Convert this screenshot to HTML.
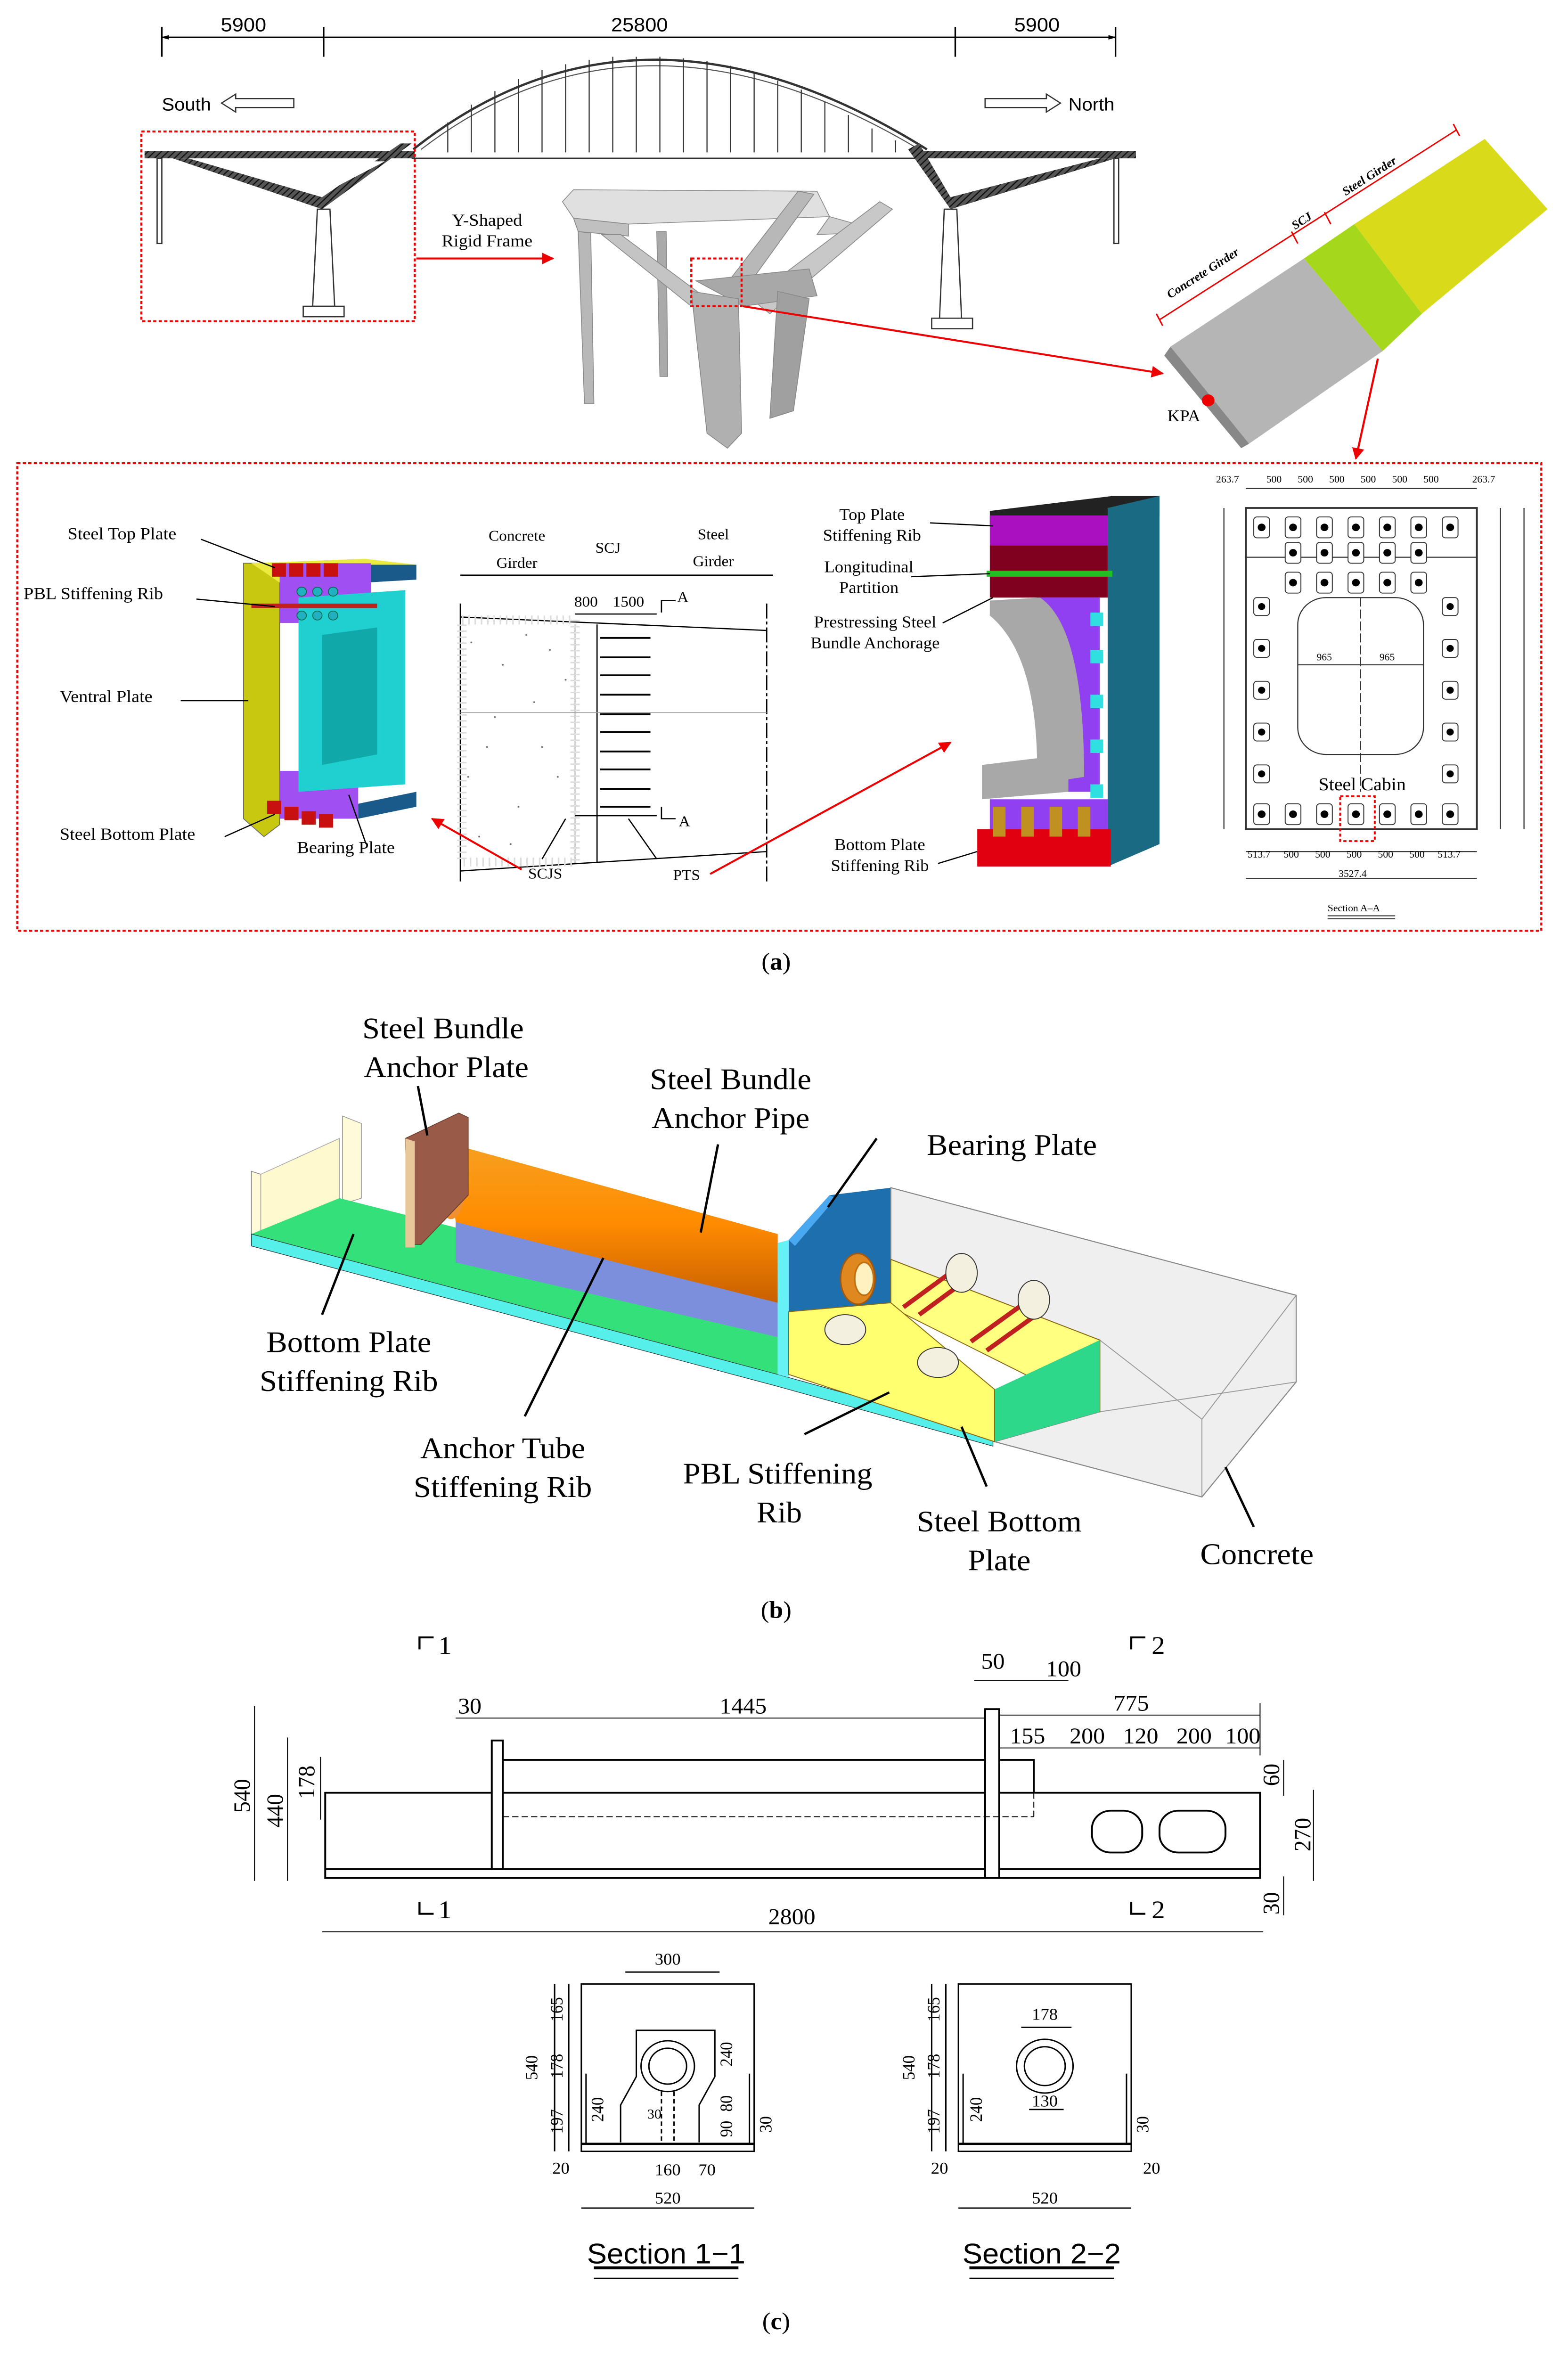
<!DOCTYPE html>
<html><head><meta charset="utf-8"><style>
html,body{margin:0;padding:0;background:#fff;width:100vw;height:100vh;overflow:hidden;position:relative}
svg{display:block;position:absolute;left:0;top:0;width:100vw;height:100vh}
text{font-family:"Liberation Serif",serif;fill:#000}
.s{font-family:"Liberation Sans",sans-serif}
.n{font-family:"Liberation Sans Narrow","Liberation Sans",sans-serif}
</style></head><body>
<svg viewBox="0 0 998 1577" preserveAspectRatio="none" xmlns="http://www.w3.org/2000/svg">
<defs>
<marker id="ar" viewBox="0 0 10 10" refX="9" refY="5" markerWidth="6" markerHeight="6" orient="auto"><path d="M0,0L10,5L0,10z" fill="#e00"/></marker>
<marker id="ak" viewBox="0 0 10 10" refX="9" refY="5" markerWidth="5" markerHeight="5" orient="auto-start-reverse"><path d="M0,2L10,5L0,8z" fill="#000"/></marker>
<pattern id="h" width="3" height="3" patternUnits="userSpaceOnUse" patternTransform="rotate(45)"><rect width="3" height="3" fill="#555"/><line x1="0" y1="0" x2="0" y2="3" stroke="#111" stroke-width="1.5"/></pattern>
<linearGradient id="og" x1="0" y1="0" x2="0" y2="1"><stop offset="0" stop-color="#f7a020"/><stop offset=".5" stop-color="#ff8c00"/><stop offset="1" stop-color="#c86000"/></linearGradient>
</defs>

<g stroke="#000" stroke-width="1" fill="none">
<line x1="103" y1="25" x2="710" y2="25" marker-start="url(#ak)" marker-end="url(#ak)"/>
<line x1="103" y1="18" x2="103" y2="38"/><line x1="206" y1="18" x2="206" y2="38"/><line x1="608" y1="18" x2="608" y2="38"/><line x1="710" y1="18" x2="710" y2="38"/>
</g>
<text class="n" x="155" y="21" font-size="13" text-anchor="middle">5900</text>
<text class="n" x="407" y="21" font-size="13" text-anchor="middle">25800</text>
<text class="n" x="660" y="21" font-size="13" text-anchor="middle">5900</text>
<text class="s" x="103" y="74" font-size="12">South</text>
<path d="M141,69 L150,63 L150,66 L187,66 L187,72 L150,72 L150,75 Z" fill="#fff" stroke="#333" stroke-width=".8"/>
<path d="M675,69 L666,63 L666,66 L627,66 L627,72 L666,72 L666,75 Z" fill="#fff" stroke="#333" stroke-width=".8"/>
<text class="s" x="680" y="74" font-size="12">North</text>
<path d="M263,100 Q407,-20 590,100" fill="none" stroke="#333" stroke-width="1.5"/>
<path d="M268,100 Q407,-12 585,100" fill="none" stroke="#555" stroke-width=".7"/>
<g stroke="#333" stroke-width=".7">
<line x1="285" y1="82" x2="285" y2="102"/><line x1="300" y1="70" x2="300" y2="102"/><line x1="315" y1="61" x2="315" y2="102"/><line x1="330" y1="53" x2="330" y2="102"/><line x1="345" y1="47" x2="345" y2="102"/><line x1="360" y1="43" x2="360" y2="102"/><line x1="375" y1="40" x2="375" y2="102"/><line x1="390" y1="38" x2="390" y2="102"/><line x1="405" y1="38" x2="405" y2="102"/><line x1="420" y1="38" x2="420" y2="102"/><line x1="435" y1="39" x2="435" y2="102"/><line x1="450" y1="41" x2="450" y2="102"/><line x1="465" y1="44" x2="465" y2="102"/><line x1="480" y1="48" x2="480" y2="102"/><line x1="495" y1="54" x2="495" y2="102"/><line x1="510" y1="60" x2="510" y2="102"/><line x1="525" y1="68" x2="525" y2="102"/><line x1="540" y1="77" x2="540" y2="102"/><line x1="555" y1="86" x2="555" y2="102"/><line x1="570" y1="94" x2="570" y2="102"/>
</g>
<line x1="262" y1="106" x2="590" y2="106" stroke="#333" stroke-width="1"/>
<rect x="92" y="101" width="172" height="5" fill="url(#h)"/>
<rect x="585" y="101" width="138" height="5" fill="url(#h)"/>
<path d="M110,106 L205,140 L262,96 L255,96 L205,132 L120,106 Z" fill="url(#h)"/>
<path d="M140,108 L205,130 L245,108 Z" fill="#fff"/>
<path d="M710,106 L605,140 L578,100 L585,96 L605,132 L700,106 Z" fill="url(#h)"/>
<path d="M680,108 L605,130 L592,108 Z" fill="#fff"/>
<g stroke="#333" stroke-width=".8" fill="#fff">
<rect x="100" y="106" width="3" height="57"/><rect x="709" y="106" width="3" height="57"/>
<path d="M202,140 L210,140 L213,205 L199,205 Z"/><path d="M601,140 L609,140 L612,213 L598,213 Z"/>
<rect x="193" y="205" width="26" height="7"/><rect x="593" y="213" width="26" height="7"/>
</g>
<rect x="90" y="88" width="174" height="127" fill="none" stroke="#e00" stroke-width="1.3" stroke-dasharray="2,1.5"/>
<text x="310" y="151" font-size="11.5" text-anchor="middle">Y-Shaped</text>
<text x="310" y="165" font-size="11.5" text-anchor="middle">Rigid Frame</text>
<line x1="265" y1="173" x2="352" y2="173" stroke="#e00" stroke-width="1.3" marker-end="url(#ar)"/>
<g stroke="#888" stroke-width=".5">
<path d="M358,135 L365,127 L520,128 L528,145 L400,150 L365,146 Z" fill="#e0e0e0"/>
<path d="M365,146 L400,150 L400,158 L368,155 Z" fill="#c0c0c0"/>
<path d="M528,145 L545,150 L545,156 L520,157 Z" fill="#cfcfcf"/>
<path d="M368,155 L376,156 L378,270 L372,270 Z" fill="#b8b8b8"/>
<path d="M418,155 L424,155 L425,252 L420,252 Z" fill="#aaa"/>
<path d="M383,157 L395,157 L450,200 L440,205 Z" fill="#c4c4c4"/>
<path d="M560,135 L568,140 L490,210 L478,200 Z" fill="#c8c8c8"/>
<path d="M508,128 L518,130 L470,200 L458,196 Z" fill="#b8b8b8"/>
<path d="M443,188 L515,180 L520,198 L473,205 Z" fill="#a8a8a8"/>
<path d="M440,195 L470,200 L472,290 L463,300 L450,290 Z" fill="#b0b0b0"/>
<path d="M495,195 L515,200 L505,275 L490,280 Z" fill="#a0a0a0"/>
</g>
<rect x="440" y="173" width="32" height="32" fill="none" stroke="#e00" stroke-width="1.3" stroke-dasharray="2,1.5"/>
<line x1="473" y1="205" x2="740" y2="250" stroke="#e00" stroke-width="1.3" marker-end="url(#ar)"/>
<path d="M745,232 L830,173 L880,235 L795,297 Z" fill="#b5b5b5"/>
<path d="M745,232 L795,297 L790,300 L741,238 Z" fill="#888"/>
<path d="M830,173 L862,150 L905,210 L880,235 Z" fill="#a5d81a"/>
<path d="M862,150 L945,93 L985,140 L905,210 Z" fill="#d9da1a"/>
<g stroke="#e00" stroke-width=".9" fill="none">
<line x1="738" y1="214" x2="927" y2="87"/>
<line x1="736" y1="210" x2="740" y2="218"/><line x1="822" y1="155" x2="826" y2="163"/><line x1="843" y1="142" x2="847" y2="150"/><line x1="925" y1="83" x2="929" y2="91"/>
</g>
<text x="767" y="185" font-size="8" font-style="italic" font-weight="bold" transform="rotate(-34 767 185)" text-anchor="middle">Concrete Girder</text>
<text x="830" y="150" font-size="8" font-style="italic" font-weight="bold" transform="rotate(-34 830 150)" text-anchor="middle">SCJ</text>
<text x="873" y="120" font-size="8" font-style="italic" font-weight="bold" transform="rotate(-34 873 120)" text-anchor="middle">Steel Girder</text>
<circle cx="769" cy="268" r="4" fill="#e00"/>
<text x="743" y="282" font-size="11">KPA</text>
<line x1="877" y1="240" x2="863" y2="307" stroke="#e00" stroke-width="1.3" marker-end="url(#ar)"/>

<rect x="11" y="310" width="970" height="313" fill="none" stroke="#e00" stroke-width="1.3" stroke-dasharray="2,1.5"/>
<path d="M155,377 L178,377 L178,552 L168,560 L155,548 Z" fill="#c8c810" stroke="#666" stroke-width=".5"/>
<path d="M160,377 L232,374 L265,378 L265,387 L178,390 Z" fill="#eaea40"/>
<path d="M232,378 L265,378 L265,388 L232,390 Z" fill="#1a5a8a"/>
<rect x="178" y="377" width="58" height="40" fill="#a050f0"/>
<rect x="178" y="516" width="50" height="32" fill="#a050f0"/>
<path d="M190,400 L258,395 L258,525 L190,530 Z" fill="#20d0d0"/>
<path d="M205,425 L240,420 L240,505 L205,512 Z" fill="#10a8a8"/>
<path d="M228,538 L265,530 L265,540 L228,548 Z" fill="#1a5a8a"/>
<g fill="#c81010"><rect x="173" y="377" width="9" height="9"/><rect x="184" y="377" width="9" height="9"/><rect x="195" y="377" width="9" height="9"/><rect x="206" y="377" width="9" height="9"/>
<rect x="170" y="536" width="9" height="9"/><rect x="181" y="540" width="9" height="9"/><rect x="192" y="543" width="9" height="9"/><rect x="203" y="545" width="9" height="9"/></g>
<rect x="160" y="404" width="80" height="3" fill="#c02020"/>
<g fill="#20b0c0" stroke="#064" stroke-width=".5"><circle cx="192" cy="396" r="3"/><circle cx="202" cy="396" r="3"/><circle cx="212" cy="396" r="3"/><circle cx="192" cy="412" r="3"/><circle cx="202" cy="412" r="3"/><circle cx="212" cy="412" r="3"/></g>
<g font-size="11.5">
<text x="43" y="361">Steel Top Plate</text><text x="15" y="401">PBL Stiffening Rib</text><text x="38" y="470">Ventral Plate</text>
<text x="38" y="562">Steel Bottom Plate</text><text x="189" y="571">Bearing Plate</text></g>
<g stroke="#000" stroke-width=".8"><line x1="128" y1="361" x2="175" y2="380"/><line x1="125" y1="401" x2="175" y2="406"/><line x1="115" y1="469" x2="158" y2="469"/><line x1="143" y1="560" x2="175" y2="545"/><line x1="233" y1="565" x2="222" y2="532"/></g>
<g font-size="10" class="n">
<text x="329" y="362" text-anchor="middle">Concrete</text><text x="329" y="380" text-anchor="middle">Girder</text>
<text x="387" y="370" text-anchor="middle">SCJ</text>
<text x="454" y="361" text-anchor="middle">Steel</text><text x="454" y="379" text-anchor="middle">Girder</text>
<text x="373" y="406" text-anchor="middle">800</text><text x="400" y="406" text-anchor="middle">1500</text>
<text x="347" y="588" text-anchor="middle">SCJS</text><text x="437" y="589" text-anchor="middle">PTS</text>
<text x="431" y="403">A</text><text x="432" y="553">A</text></g>
<g stroke="#000" stroke-width=".8" fill="none">
<line x1="293" y1="385" x2="492" y2="385"/><line x1="366" y1="411" x2="418" y2="411"/>
<path d="M421,410 L421,402 L430,402"/><path d="M421,540 L421,548 L430,548"/>
<path d="M293,413 L488,422 M293,583 L488,570"/>
<line x1="293" y1="404" x2="293" y2="590"/><line x1="488" y1="404" x2="488" y2="590" stroke-dasharray="10,2,2,2"/>
<line x1="380" y1="418" x2="380" y2="577"/><line x1="366" y1="418" x2="366" y2="578" stroke-width=".4"/>
<line x1="366" y1="546" x2="418" y2="546"/>
<line x1="360" y1="548" x2="345" y2="575"/><line x1="400" y1="548" x2="418" y2="575"/>
</g>
<rect x="294" y="415" width="72" height="162" fill="none" stroke="#ddd" stroke-width="6" stroke-dasharray="1,3"/>
<g fill="#777">
<circle cx="300" cy="430" r=".6"/><circle cx="320" cy="445" r=".6"/><circle cx="340" cy="470" r=".6"/><circle cx="310" cy="500" r=".6"/><circle cx="355" cy="520" r=".6"/><circle cx="330" cy="540" r=".6"/><circle cx="305" cy="560" r=".6"/><circle cx="350" cy="435" r=".6"/><circle cx="315" cy="480" r=".6"/><circle cx="345" cy="500" r=".6"/><circle cx="325" cy="565" r=".6"/><circle cx="360" cy="455" r=".6"/><circle cx="298" cy="520" r=".6"/><circle cx="335" cy="425" r=".6"/></g>
<g stroke="#000" stroke-width="1.2"><line x1="382" y1="427" x2="414" y2="427"/><line x1="382" y1="440" x2="414" y2="440"/><line x1="382" y1="452" x2="414" y2="452"/><line x1="382" y1="465" x2="414" y2="465"/><line x1="382" y1="478" x2="414" y2="478"/><line x1="382" y1="490" x2="414" y2="490"/><line x1="382" y1="503" x2="414" y2="503"/><line x1="382" y1="515" x2="414" y2="515"/><line x1="382" y1="528" x2="414" y2="528"/><line x1="382" y1="540" x2="414" y2="540"/></g>
<line x1="293" y1="477" x2="488" y2="477" stroke="#999" stroke-width=".5"/>
<line x1="332" y1="582" x2="275" y2="548" stroke="#e00" stroke-width="1.3" marker-end="url(#ar)"/>
<line x1="452" y1="585" x2="605" y2="497" stroke="#e00" stroke-width="1.3" marker-end="url(#ar)"/>
<path d="M630,342 L708,332 L738,332 L738,345 L630,352 Z" fill="#222"/>
<path d="M705,340 L738,332 L738,565 L705,580 Z" fill="#1a6a84"/>
<rect x="630" y="345" width="75" height="20" fill="#aa10c0"/>
<rect x="630" y="365" width="75" height="35" fill="#800020"/>
<rect x="628" y="382" width="80" height="4" fill="#20c020"/>
<path d="M660,400 L700,400 L700,530 L660,530 Q672,470 660,400 Z" fill="#9040f0"/>
<path d="M630,402 L662,400 Q690,420 690,520 L660,525 Q662,440 630,412 Z" fill="#a8a8a8"/>
<path d="M625,512 L680,505 L680,530 L625,535 Z" fill="#a8a8a8"/>
<g fill="#30e0e0"><rect x="694" y="410" width="8" height="9"/><rect x="694" y="435" width="8" height="9"/><rect x="694" y="465" width="8" height="9"/><rect x="694" y="495" width="8" height="9"/><rect x="694" y="525" width="8" height="9"/></g>
<rect x="630" y="535" width="75" height="20" fill="#9040f0"/>
<rect x="622" y="555" width="85" height="25" fill="#e00010"/>
<g fill="#c09020"><rect x="632" y="540" width="8" height="20"/><rect x="650" y="540" width="8" height="20"/><rect x="668" y="540" width="8" height="20"/><rect x="686" y="540" width="8" height="20"/></g>
<g font-size="11" text-anchor="middle"><text x="555" y="348">Top Plate</text><text x="555" y="362">Stiffening Rib</text>
<text x="553" y="383">Longitudinal</text><text x="553" y="397">Partition</text>
<text x="557" y="420">Prestressing Steel</text><text x="557" y="434">Bundle Anchorage</text>
<text x="560" y="569">Bottom Plate</text><text x="560" y="583">Stiffening Rib</text></g>
<g stroke="#000" stroke-width=".8"><line x1="592" y1="350" x2="632" y2="352"/><line x1="580" y1="386" x2="630" y2="384"/><line x1="600" y1="417" x2="632" y2="400"/><line x1="597" y1="578" x2="622" y2="570"/></g>
<g stroke="#333" stroke-width=".7" fill="none">
<rect x="793" y="340" width="147" height="215" stroke-width="1.2"/>
<line x1="793" y1="373" x2="940" y2="373"/>
<rect x="826" y="400" width="80" height="105" rx="18"/>
<line x1="866" y1="400" x2="866" y2="530" stroke-dasharray="6,2"/>
<line x1="826" y1="445" x2="906" y2="445"/>
<line x1="793" y1="327" x2="940" y2="327"/><line x1="793" y1="570" x2="940" y2="570"/><line x1="793" y1="588" x2="940" y2="588"/>
<line x1="779" y1="340" x2="779" y2="555"/><line x1="955" y1="340" x2="955" y2="555"/><line x1="970" y1="340" x2="970" y2="555"/>
<line x1="845" y1="613" x2="888" y2="613"/><line x1="845" y1="615" x2="888" y2="615"/>
</g>
<g fill="#fff" stroke="#333" stroke-width=".6">
<rect x="798" y="346" width="10" height="14" rx="2"/><rect x="818" y="346" width="10" height="14" rx="2"/><rect x="838" y="346" width="10" height="14" rx="2"/><rect x="858" y="346" width="10" height="14" rx="2"/><rect x="878" y="346" width="10" height="14" rx="2"/><rect x="898" y="346" width="10" height="14" rx="2"/><rect x="918" y="346" width="10" height="14" rx="2"/>
<rect x="818" y="363" width="10" height="14" rx="2"/><rect x="838" y="363" width="10" height="14" rx="2"/><rect x="858" y="363" width="10" height="14" rx="2"/><rect x="878" y="363" width="10" height="14" rx="2"/><rect x="898" y="363" width="10" height="14" rx="2"/>
<rect x="818" y="383" width="10" height="14" rx="2"/><rect x="838" y="383" width="10" height="14" rx="2"/><rect x="858" y="383" width="10" height="14" rx="2"/><rect x="878" y="383" width="10" height="14" rx="2"/><rect x="898" y="383" width="10" height="14" rx="2"/>
<rect x="798" y="400" width="10" height="12" rx="2"/><rect x="798" y="428" width="10" height="12" rx="2"/><rect x="798" y="456" width="10" height="12" rx="2"/><rect x="798" y="484" width="10" height="12" rx="2"/><rect x="798" y="512" width="10" height="12" rx="2"/>
<rect x="918" y="400" width="10" height="12" rx="2"/><rect x="918" y="428" width="10" height="12" rx="2"/><rect x="918" y="456" width="10" height="12" rx="2"/><rect x="918" y="484" width="10" height="12" rx="2"/><rect x="918" y="512" width="10" height="12" rx="2"/>
<rect x="798" y="538" width="10" height="14" rx="2"/><rect x="818" y="538" width="10" height="14" rx="2"/><rect x="838" y="538" width="10" height="14" rx="2"/><rect x="858" y="538" width="10" height="14" rx="2"/><rect x="878" y="538" width="10" height="14" rx="2"/><rect x="898" y="538" width="10" height="14" rx="2"/><rect x="918" y="538" width="10" height="14" rx="2"/>
</g>
<g fill="#000"><circle cx="803" cy="353" r="2.5"/><circle cx="823" cy="353" r="2.5"/><circle cx="843" cy="353" r="2.5"/><circle cx="863" cy="353" r="2.5"/><circle cx="883" cy="353" r="2.5"/><circle cx="903" cy="353" r="2.5"/><circle cx="923" cy="353" r="2.5"/>
<circle cx="823" cy="370" r="2.5"/><circle cx="843" cy="370" r="2.5"/><circle cx="863" cy="370" r="2.5"/><circle cx="883" cy="370" r="2.5"/><circle cx="903" cy="370" r="2.5"/>
<circle cx="823" cy="390" r="2.5"/><circle cx="843" cy="390" r="2.5"/><circle cx="863" cy="390" r="2.5"/><circle cx="883" cy="390" r="2.5"/><circle cx="903" cy="390" r="2.5"/>
<circle cx="803" cy="406" r="2.3"/><circle cx="803" cy="434" r="2.3"/><circle cx="803" cy="462" r="2.3"/><circle cx="803" cy="490" r="2.3"/><circle cx="803" cy="518" r="2.3"/>
<circle cx="923" cy="406" r="2.3"/><circle cx="923" cy="434" r="2.3"/><circle cx="923" cy="462" r="2.3"/><circle cx="923" cy="490" r="2.3"/><circle cx="923" cy="518" r="2.3"/>
<circle cx="803" cy="545" r="2.5"/><circle cx="823" cy="545" r="2.5"/><circle cx="843" cy="545" r="2.5"/><circle cx="863" cy="545" r="2.5"/><circle cx="883" cy="545" r="2.5"/><circle cx="903" cy="545" r="2.5"/><circle cx="923" cy="545" r="2.5"/></g>
<rect x="853" y="533" width="22" height="30" fill="none" stroke="#e00" stroke-width="1.2" stroke-dasharray="2,1.5"/>
<text x="867" y="529" font-size="12" text-anchor="middle">Steel Cabin</text>
<g class="n" font-size="6.5" fill="#555">
<text x="774" y="323">263.7</text><text x="806" y="323">500</text><text x="826" y="323">500</text><text x="846" y="323">500</text><text x="866" y="323">500</text><text x="886" y="323">500</text><text x="906" y="323">500</text><text x="937" y="323">263.7</text>
<text x="794" y="574">513.7</text><text x="817" y="574">500</text><text x="837" y="574">500</text><text x="857" y="574">500</text><text x="877" y="574">500</text><text x="897" y="574">500</text><text x="915" y="574">513.7</text>
<text x="852" y="587">3527.4</text><text x="845" y="610">Section A–A</text>
<text x="838" y="442">965</text><text x="878" y="442">965</text></g>
<text x="494" y="649" font-size="16" text-anchor="middle">(<tspan font-weight="bold">a</tspan>)</text>

<path d="M160,784 L166,786 L166,828 L160,826 Z" fill="#fffbd8" stroke="#888" stroke-width=".5"/>
<path d="M166,786 L216,762 L216,806 L166,828 Z" fill="#fff9d0" stroke="#aaa" stroke-width=".5"/>
<path d="M218,747 L230,752 L230,802 L218,806 Z" fill="#fffad8" stroke="#999" stroke-width=".5"/>
<path d="M160,826 L216,802 L495,876 L495,920 Z" fill="#33e07a"/>
<path d="M160,826 L495,920 L632,960 L632,968 L495,928 L160,834 Z" fill="#55f0ea" stroke="#333" stroke-width=".4"/>
<path d="M290,812 L495,868 L495,895 L290,845 Z" fill="#7b8fdc"/>
<path d="M285,765 L495,826 L495,872 L290,818 Z" fill="url(#og)"/>
<ellipse cx="287" cy="790" rx="10" ry="26" fill="#f09030"/>
<path d="M258,762 L292,745 L298,748 L298,800 L268,833 L260,833 Z" fill="#9a5a48" stroke="#6a3a28" stroke-width=".5"/>
<path d="M258,762 L264,764 L264,835 L258,835 Z" fill="#e8c898"/>
<path d="M495,832 L502,830 L502,922 L495,920 Z" fill="#66f2f5"/>
<path d="M502,830 L528,800 L567,795 L567,872 L502,878 Z" fill="#1e6fae"/>
<path d="M502,830 L528,800 L532,802 L506,834 Z" fill="#4aa8f0"/>
<ellipse cx="546" cy="856" rx="11" ry="17" fill="#e08820" stroke="#a05810"/>
<ellipse cx="550" cy="856" rx="6" ry="11" fill="#fff2c0" stroke="#c07010"/>
<path d="M567,795 L825,867 L825,925 L765,1002 L633,965 L700,945 L700,897 L567,843 Z" fill="#efefef" stroke="#888" stroke-width=".7"/>
<g stroke="#999" stroke-width=".6" fill="none"><path d="M700,897 L765,950 L825,867"/><line x1="765" y1="950" x2="765" y2="1002"/><line x1="700" y1="945" x2="825" y2="925"/></g>
<path d="M567,843 L700,897 L700,945 L567,875 Z" fill="#ffff80" stroke="#8a6a10" stroke-width=".6"/>
<path d="M633,930 L700,897 L700,945 L633,965 Z" fill="#2ed88a"/>
<path d="M502,878 L567,872 L633,930 L633,965 L502,920 Z" fill="#ffff70" stroke="#8a6a10" stroke-width=".6"/>
<g stroke="#c02020" stroke-width="3"><line x1="575" y1="875" x2="610" y2="848"/><line x1="585" y1="880" x2="620" y2="853"/><line x1="618" y1="898" x2="655" y2="870"/><line x1="628" y1="904" x2="665" y2="876"/></g>
<g fill="#f4f0e0" stroke="#333" stroke-width=".6"><ellipse cx="538" cy="890" rx="13" ry="10"/><ellipse cx="597" cy="912" rx="13" ry="10"/><ellipse cx="612" cy="852" rx="10" ry="13"/><ellipse cx="658" cy="870" rx="10" ry="13"/></g>
<g font-size="20" text-anchor="middle">
<text x="282" y="695">Steel Bundle</text><text x="284" y="721">Anchor Plate</text>
<text x="465" y="729">Steel Bundle</text><text x="465" y="755">Anchor Pipe</text>
<text x="644" y="773">Bearing Plate</text>
<text x="222" y="905">Bottom Plate</text><text x="222" y="931">Stiffening Rib</text>
<text x="320" y="976">Anchor Tube</text><text x="320" y="1002">Stiffening Rib</text>
<text x="495" y="993">PBL Stiffening</text><text x="496" y="1019">Rib</text>
<text x="636" y="1025">Steel Bottom</text><text x="636" y="1051">Plate</text>
<text x="800" y="1047">Concrete</text></g>
<g stroke="#000" stroke-width="1.5"><line x1="266" y1="727" x2="272" y2="760"/><line x1="457" y1="766" x2="446" y2="825"/><line x1="558" y1="762" x2="527" y2="808"/>
<line x1="225" y1="826" x2="205" y2="880"/><line x1="384" y1="842" x2="334" y2="948"/><line x1="566" y1="932" x2="512" y2="960"/><line x1="612" y1="955" x2="628" y2="995"/><line x1="780" y1="982" x2="798" y2="1022"/></g>
<text x="494" y="1083" font-size="16" text-anchor="middle">(<tspan font-weight="bold">b</tspan>)</text>

<g stroke="#000" stroke-width="1.2" fill="none">
<rect x="207" y="1200" width="595" height="57"/>
<line x1="207" y1="1251" x2="802" y2="1251"/>
<path d="M320,1200 L320,1178 L658,1178 L658,1200"/>
<rect x="313" y="1165" width="7" height="86" fill="#fff"/>
<rect x="627" y="1144" width="9" height="113" fill="#fff"/>
<rect x="695" y="1212" width="32" height="28" rx="12"/><rect x="738" y="1212" width="42" height="28" rx="12"/>
</g>
<g stroke="#000" stroke-width=".6" fill="none" stroke-dasharray="4,2"><line x1="320" y1="1216" x2="658" y2="1216"/><line x1="658" y1="1200" x2="658" y2="1216"/><line x1="313" y1="1200" x2="313" y2="1251"/><line x1="320" y1="1200" x2="320" y2="1251"/></g>
<g stroke="#000" stroke-width=".6" fill="none">
<line x1="290" y1="1150" x2="627" y2="1150"/><line x1="636" y1="1148" x2="802" y2="1148"/><line x1="636" y1="1170" x2="802" y2="1170"/>
<line x1="620" y1="1125" x2="680" y2="1125"/>
<line x1="162" y1="1142" x2="162" y2="1259"/><line x1="183" y1="1163" x2="183" y2="1259"/><line x1="204" y1="1176" x2="204" y2="1218"/>
<line x1="817" y1="1178" x2="817" y2="1202"/><line x1="836" y1="1198" x2="836" y2="1259"/><line x1="817" y1="1256" x2="817" y2="1282"/>
<line x1="205" y1="1293" x2="804" y2="1293"/>
<line x1="802" y1="1140" x2="802" y2="1175"/>
</g>
<g class="n" font-size="15" fill="#333">
<text x="299" y="1147" text-anchor="middle">30</text><text x="473" y="1147" text-anchor="middle">1445</text>
<text x="720" y="1145" text-anchor="middle">775</text>
<text x="654" y="1167" text-anchor="middle">155</text><text x="692" y="1167" text-anchor="middle">200</text><text x="726" y="1167" text-anchor="middle">120</text><text x="760" y="1167" text-anchor="middle">200</text><text x="791" y="1167" text-anchor="middle">100</text>
<text x="632" y="1117" text-anchor="middle">50</text><text x="677" y="1122" text-anchor="middle">100</text>
<text x="504" y="1288" text-anchor="middle">2800</text>
<text transform="translate(159,1202) rotate(-90)" text-anchor="middle">540</text>
<text transform="translate(180,1212) rotate(-90)" text-anchor="middle">440</text>
<text transform="translate(200,1193) rotate(-90)" text-anchor="middle">178</text>
<text transform="translate(814,1188) rotate(-90)" text-anchor="middle">60</text>
<text transform="translate(834,1228) rotate(-90)" text-anchor="middle">270</text>
<text transform="translate(814,1274) rotate(-90)" text-anchor="middle">30</text>
<text x="279" y="1107" font-size="17">1</text><text x="279" y="1284" font-size="17">1</text>
<text x="733" y="1107" font-size="17">2</text><text x="733" y="1284" font-size="17">2</text>
</g>
<g stroke="#000" stroke-width="1.3" fill="none"><path d="M267,1104 L267,1096 L276,1096"/><path d="M267,1273 L267,1281 L276,1281"/><path d="M720,1104 L720,1096 L729,1096"/><path d="M720,1273 L720,1281 L729,1281"/></g>
<g stroke="#000" stroke-width=".9" fill="none">
<rect x="370" y="1328" width="110" height="112"/><line x1="370" y1="1435" x2="480" y2="1435" stroke-width="1.5"/>
<path d="M373,1435 L373,1388 M477,1435 L477,1388"/>
<path d="M395,1434 L395,1409 L405,1390 L405,1359 L455,1359 L455,1390 L445,1409 L445,1434"/>
<circle cx="425" cy="1383" r="17"/><circle cx="425" cy="1383" r="12"/>
<line x1="421" y1="1400" x2="421" y2="1434" stroke-dasharray="3,2"/><line x1="429" y1="1400" x2="429" y2="1434" stroke-dasharray="3,2"/>
<line x1="398" y1="1320" x2="458" y2="1320"/><line x1="370" y1="1478" x2="480" y2="1478"/>
<line x1="353" y1="1328" x2="353" y2="1440"/><line x1="362" y1="1328" x2="362" y2="1440"/>
<rect x="610" y="1328" width="110" height="112"/><line x1="610" y1="1435" x2="720" y2="1435" stroke-width="1.5"/>
<path d="M613,1435 L613,1388 M717,1435 L717,1388"/>
<circle cx="665" cy="1383" r="18"/><circle cx="665" cy="1383" r="13"/>
<line x1="650" y1="1357" x2="682" y2="1357"/><line x1="655" y1="1412" x2="677" y2="1412"/>
<line x1="610" y1="1478" x2="720" y2="1478"/>
<line x1="593" y1="1328" x2="593" y2="1440"/><line x1="602" y1="1328" x2="602" y2="1440"/>
<line x1="378" y1="1518" x2="470" y2="1518" stroke-width="2"/><line x1="378" y1="1525" x2="470" y2="1525"/>
<line x1="617" y1="1518" x2="709" y2="1518" stroke-width="2"/><line x1="617" y1="1525" x2="709" y2="1525"/>
</g>
<g class="n" font-size="11" fill="#333">
<text x="425" y="1315" text-anchor="middle">300</text><text x="425" y="1475" text-anchor="middle">520</text>
<text x="425" y="1456" text-anchor="middle">160</text><text x="450" y="1456" text-anchor="middle">70</text><text x="357" y="1455" text-anchor="middle">20</text>
<text transform="translate(342,1384) rotate(-90)" text-anchor="middle">540</text>
<text transform="translate(358,1345) rotate(-90)" text-anchor="middle">165</text>
<text transform="translate(358,1383) rotate(-90)" text-anchor="middle">178</text>
<text transform="translate(358,1420) rotate(-90)" text-anchor="middle">197</text>
<text transform="translate(384,1412) rotate(-90)" text-anchor="middle">240</text>
<text transform="translate(466,1375) rotate(-90)" text-anchor="middle">240</text>
<text transform="translate(466,1408) rotate(-90)" text-anchor="middle">80</text>
<text transform="translate(466,1425) rotate(-90)" text-anchor="middle">90</text>
<text transform="translate(491,1422) rotate(-90)" text-anchor="middle">30</text>
<text x="412" y="1418" font-size="9">30</text>
<text x="665" y="1352" text-anchor="middle">178</text><text x="665" y="1410" text-anchor="middle">130</text>
<text x="665" y="1475" text-anchor="middle">520</text><text x="598" y="1455" text-anchor="middle">20</text><text x="733" y="1455" text-anchor="middle">20</text>
<text transform="translate(582,1384) rotate(-90)" text-anchor="middle">540</text>
<text transform="translate(598,1345) rotate(-90)" text-anchor="middle">165</text>
<text transform="translate(598,1383) rotate(-90)" text-anchor="middle">178</text>
<text transform="translate(598,1420) rotate(-90)" text-anchor="middle">197</text>
<text transform="translate(625,1412) rotate(-90)" text-anchor="middle">240</text>
<text transform="translate(731,1422) rotate(-90)" text-anchor="middle">30</text>
</g>
<text class="n" x="424" y="1515" font-size="19" fill="#444" text-anchor="middle">Section 1−1</text>
<text class="n" x="663" y="1515" font-size="19" fill="#444" text-anchor="middle">Section 2−2</text>
<text x="494" y="1559" font-size="16" text-anchor="middle">(<tspan font-weight="bold">c</tspan>)</text>
</svg>
</body></html>
